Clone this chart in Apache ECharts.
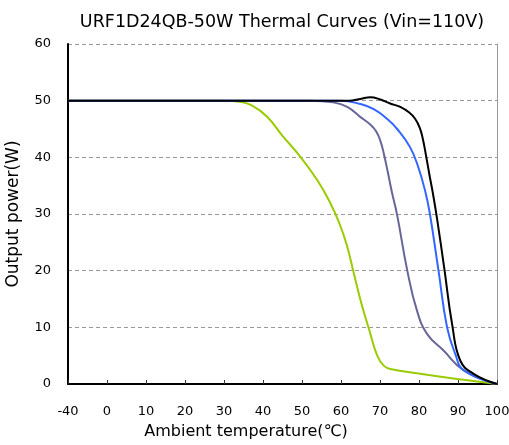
<!DOCTYPE html>
<html><head><meta charset="utf-8">
<script src="https://cdn.jsdelivr.net/npm/echarts@6/dist/echarts.min.js"></script>
<style>html,body{margin:0;padding:0;background:#fff}#c{width:509px;height:445px}</style>
</head><body><div id="c"></div>
<script>
const xTickLabels = ['-40','0','10','20','30','40','50','60','70','80','90','100'];
const seriesNames = ['curve1','curve2','curve3','curve4'];
const greenT = [-40,30,34,37,41,45,49.6,53.9,57,59.5,61.5,63.3,65.2,67.3,69.3,71,73,79.5,89.8,100];
const greenP = [50,50,49.8,49.2,47.2,43.8,40.1,36,32.3,28.5,24.5,19.5,14.3,9.4,5,3.2,2.6,1.9,0.9,0];
const purpleT = [-40,52,58,61.6,65,67.5,69,70.1,71,72,73,74.4,77,79.5,82.1,86.3,91.5,100];
const purpleP = [50,50,49.7,48.9,47.1,45.8,44.6,42.9,40.6,37.4,34,29.8,20,12.9,8.8,5.9,2.4,0];
const blueT = [-40,60,65,68.4,71.8,74.4,77.7,79.8,81.6,82.8,85,87.2,89.3,91.5,100];
const blueP = [50,50,49.4,48.5,46.8,45,41.8,38.3,34,30,20,10,5.3,2.4,0];
const blackT = [-40,62,65,67.5,70.1,72.6,75.2,77.5,79,80.2,81,81.8,82.6,83.6,84.6,86.5,88.5,90.6,94,100];
const blackP = [50,50,50.3,50.6,50.2,49.5,48.9,47.9,46.8,45.2,43.2,40.3,37.2,33.5,29.3,20.3,10.5,4.1,1.8,0];

// broken x scale: -40..0 occupies one 10-unit interval
function pos(t){ return t < 0 ? -10 + (t + 40) / 4 : t; }
function labelFor(v){ return v === -10 ? xTickLabels[0] : xTickLabels[v/10 + 1]; }
function pts(T,P){ return T.map((t,i)=>[pos(t),P[i]]); }

const font = 'DejaVu Sans';
const chart = echarts.init(document.getElementById('c'));
const mk = (name,T,P,color)=>({name,type:'line',smooth:0.45,showSymbol:false,data:pts(T,P),
  lineStyle:{color,width:2},itemStyle:{color},z:3});
chart.setOption({
  animation:false,
  title:{text:'URF1D24QB-50W Thermal Curves (Vin=110V)',left:277,textAlign:'center',top:8,
    textStyle:{fontFamily:font,fontSize:17.5,fontWeight:'normal',color:'#000'}},
  grid:{left:68,right:12,top:44,bottom:61,containLabel:false,outerBoundsMode:'none'},
  xAxis:{type:'value',min:-10,max:100,interval:10,
    name:'Ambient temperature(℃)',nameLocation:'middle',nameGap:40,
    nameTextStyle:{fontFamily:font,fontSize:16,color:'#000',padding:[0,73,0,0]},
    axisLine:{onZero:false,lineStyle:{color:'#000',width:2}},
    axisTick:{inside:true,length:4,lineStyle:{color:'#333',width:1}},
    axisLabel:{formatter:labelFor,fontFamily:font,fontSize:13,color:'#000',margin:21},
    splitLine:{show:false}},
  yAxis:[{type:'value',min:0,max:60,interval:10,
    name:'Output power(W)',nameLocation:'middle',nameGap:46,
    nameTextStyle:{fontFamily:font,fontSize:17,color:'#000'},
    axisLine:{show:true,onZero:false,lineStyle:{color:'#000',width:2}},
    axisTick:{show:false},
    axisLabel:{fontFamily:font,fontSize:13,color:'#000',margin:17},
    splitLine:{lineStyle:{type:[4,3],color:'#999',width:1}}},
   {type:'value',min:0,max:60,interval:10,position:'right',
    axisLine:{show:true,onZero:false,lineStyle:{color:'#999',width:1}},
    axisTick:{show:false},axisLabel:{show:false},splitLine:{show:false}}],
  series:[
    mk(seriesNames[0],greenT,greenP,'#99cc00'),
    mk(seriesNames[1],purpleT,purpleP,'#666699'),
    mk(seriesNames[2],blueT,blueP,'#3366ff'),
    mk(seriesNames[3],blackT,blackP,'#000000')
  ]
});
</script></body></html>
